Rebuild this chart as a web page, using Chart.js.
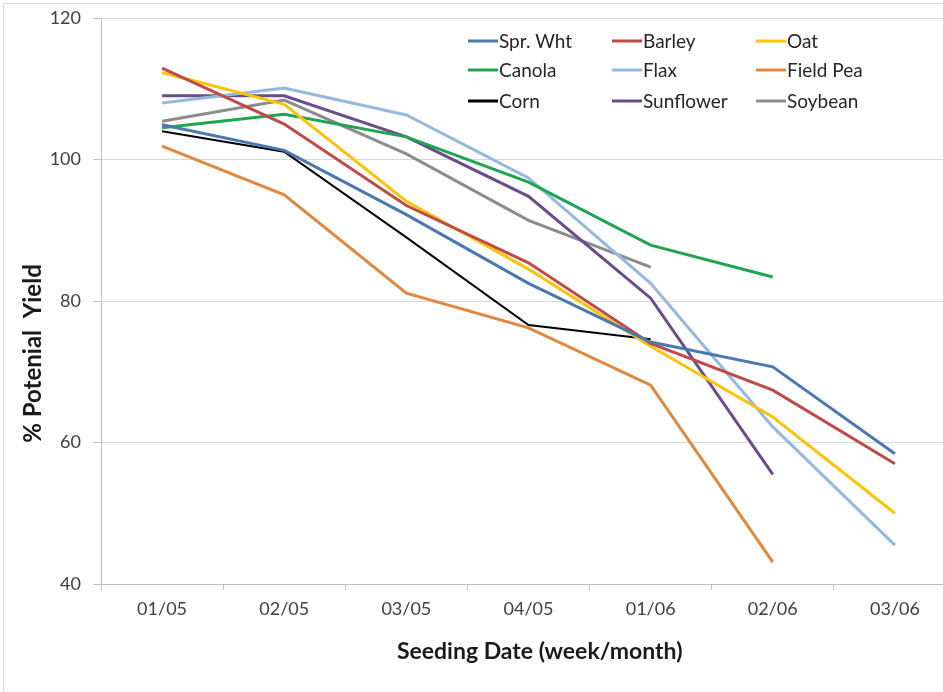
<!DOCTYPE html>
<html>
<head>
<meta charset="utf-8">
<title>Seeding date vs potential yield</title>
<script src="https://cdn.jsdelivr.net/npm/chart.js@4.4.1/dist/chart.umd.min.js"></script>
<style>
  html, body { margin: 0; padding: 0; background: #fff; overflow: hidden; }
  #frame {
    position: absolute; left: 3px; top: 3px; width: 1000px; height: 700px;
    border-left: 1px solid #d9d9d9; border-top: 1px solid #d9d9d9;
  }
  #wrap { position: absolute; left: 0; top: 0; width: 960px; height: 692px; }
</style>
</head>
<body>
<div id="frame"></div>
<div id="wrap"><canvas id="yield_chart"></canvas></div>
<script>
(function () {
    "use strict";

    // seeding dates (week/month)
    const dates = ["01/05", "02/05", "03/05", "04/05", "01/06", "02/06", "03/06"];
    const yTicks = [40, 60, 80, 100, 120];

    // % potential yield per crop
    const sprWht    = [104.9, 101.3, 92.2, 82.5, 74.2, 70.7, 58.4];
    const barley    = [112.9, 105.0, 93.5, 85.4, 74.0, 67.4, 57.0];
    const oat       = [112.3, 107.8, 94.1, 84.5, 73.6, 63.6, 50.0];
    const canola    = [104.5, 106.4, 103.2, 96.8, 87.9, 83.4, null];
    const flax      = [108.0, 110.1, 106.3, 97.4, 82.5, 62.2, 45.5];
    const fieldPea  = [101.9, 95.0, 81.1, 76.2, 68.1, 43.1, null];
    const corn      = [104.0, 101.1, 89.0, 76.6, 74.6, null, null];
    const sunflower = [109.0, 109.0, 103.2, 94.8, 80.4, 55.5, null];
    const soybean   = [105.4, 108.4, 100.8, 91.4, 84.8, null, null];

    const font = "Lato, 'Liberation Sans', sans-serif";
    const nb = function (n) { return "\u00a0".repeat(n); };

    function line(label, data, color, width) {
        return {
            label: label,
            data: data,
            borderColor: color,
            backgroundColor: color,
            borderWidth: width || 3,
            pointRadius: 0,
            pointHoverRadius: 0,
            tension: 0,
            spanGaps: false
        };
    }

    // legend laid out as a 3x3 grid in the top right of the plot
    const gridLegend = {
        id: 'gridLegend',
        afterDraw(chart) {
            const c = chart.ctx;
            const cols = [468, 612, 756];
            const rows = [41, 70, 101];
            c.save();
            c.font = "19px " + font;
            c.textBaseline = 'middle';
            c.textAlign = 'left';
            chart.data.datasets.forEach(function (ds, i) {
                const x = cols[i % 3];
                const y = rows[Math.floor(i / 3)];
                c.strokeStyle = ds.borderColor;
                c.lineWidth = 3;
                c.beginPath();
                c.moveTo(x, y);
                c.lineTo(x + 30, y);
                c.stroke();
                c.fillStyle = '#262626';
                c.fillText(ds.label, x + 31, y + 1);
            });
            c.restore();
        }
    };

    const ctx = document.getElementById("yield_chart").getContext('2d');

    new Chart(ctx, {
        type: 'line',
        data: {
            labels: dates,
            datasets: [
                line("Spr. Wht", sprWht, "#4a78b0"),
                line("Barley", barley, "#be4b48"),
                line("Oat", oat, "#fbc30c"),
                line("Canola", canola, "#1fa550"),
                line("Flax", flax, "#95b8e0"),
                line("Field Pea", fieldPea, "#e0883e"),
                line("Corn", corn, "#000000", 2),
                line("Sunflower", sunflower, "#674d8b"),
                line("Soybean", soybean, "#8c8c8c")
            ]
        },
        options: {
            responsive: true,
            maintainAspectRatio: false,
            animation: false,
            layout: { padding: { top: 18, right: 4, left: 0, bottom: 0 } },
            plugins: {
                legend: { display: false },
                tooltip: { enabled: false }
            },
            scales: {
                x: {
                    offset: true,
                    afterFit(scale) { scale.height = 108; },
                    grid: {
                        offset: true,
                        drawOnChartArea: false,
                        drawTicks: true,
                        tickLength: 6,
                        color: '#bfbfbf'
                    },
                    border: { color: '#bfbfbf', width: 1 },
                    ticks: {
                        padding: 8,
                        color: '#404040',
                        font: { family: font, size: 18 },
                        maxRotation: 0
                    },
                    title: {
                        display: true,
                        text: nb(4) + 'Seeding Date (week/month)',
                        color: '#1a1a1a',
                        font: { family: font, size: 23, weight: 'bold' },
                        padding: { top: 0, bottom: 27 }
                    }
                },
                y: {
                    min: 40,
                    max: 120,
                    afterFit(scale) {
                        scale.width = 101;
                        scale.paddingTop = 0;
                        scale.paddingBottom = 0;
                    },
                    afterBuildTicks(scale) {
                        scale.ticks = yTicks.map(function (v) { return { value: v }; });
                    },
                    grid: {
                        color: '#d9d9d9',
                        tickColor: '#bfbfbf',
                        drawTicks: true,
                        tickLength: 8
                    },
                    border: { color: '#bfbfbf', width: 1 },
                    ticks: {
                        padding: 12,
                        color: '#404040',
                        font: { family: font, size: 18 }
                    },
                    title: {
                        display: true,
                        text: '% Potenial  Yield' + nb(18),
                        color: '#1a1a1a',
                        font: { family: font, size: 24, weight: 'bold' },
                        padding: { top: 19, bottom: 0 }
                    }
                }
            }
        },
        plugins: [gridLegend]
    });
})();
</script>
</body>
</html>
